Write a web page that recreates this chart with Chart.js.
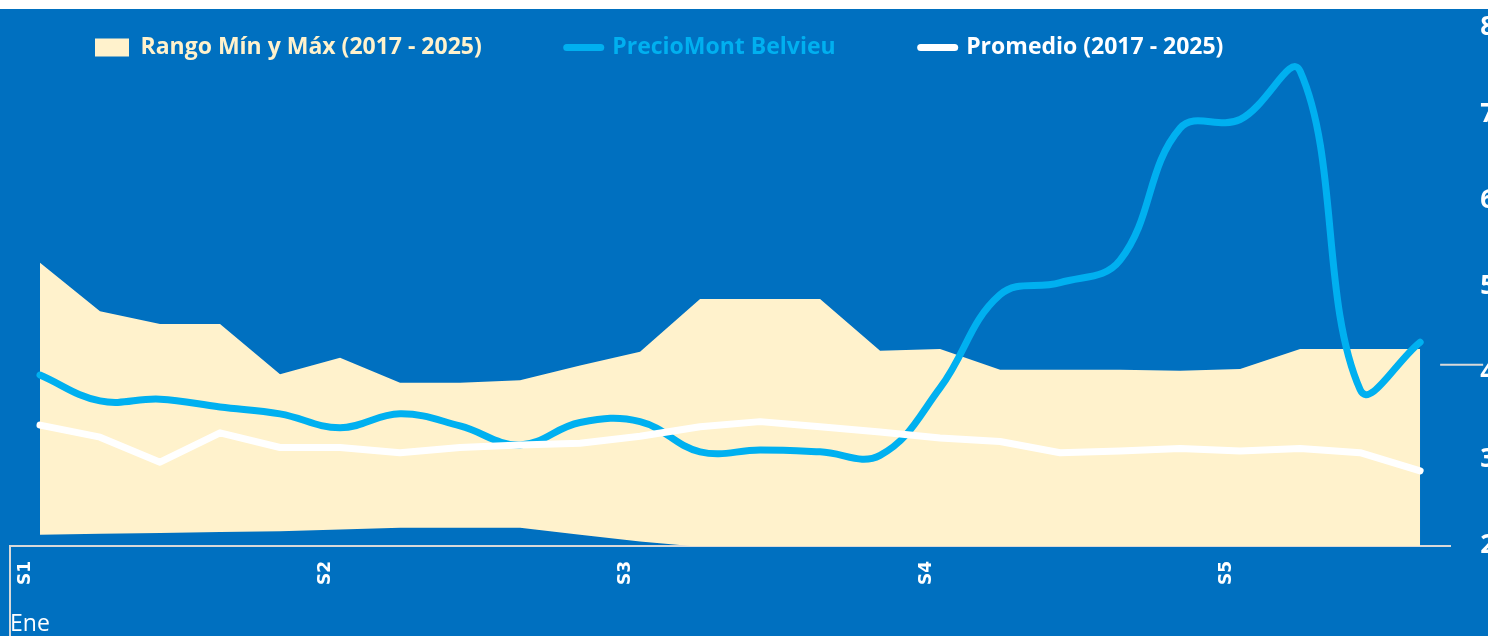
<!DOCTYPE html>
<html>
<head>
<meta charset="utf-8">
<script src="https://cdn.jsdelivr.net/npm/chart.js@4.4.1/dist/chart.umd.min.js"></script>
<style>
html, body { margin: 0; padding: 0; background: #ffffff; overflow: hidden; width: 1488px; height: 636px; }
#wrap { position: absolute; left: 0; top: 9px; width: 1504px; height: 627px; background: #0070C0; }
canvas { display: block; }
</style>
</head>
<body>
<div id="wrap"><canvas id="c" width="1504" height="627"></canvas></div>
<script>
// ---- data ----
const categories = ['S1','S1','S1','S1','S1','S2','S2','S2','S2','S2','S3','S3','S3','S3','S3','S4','S4','S4','S4','S4','S5','S5','S5','S5'];
const monthLabel = 'Ene';
const rangeMax = [5.28, 4.72, 4.57, 4.57, 3.99, 4.18, 3.89, 3.89, 3.92, 4.09, 4.25, 4.86, 4.86, 4.86, 4.26, 4.28, 4.04, 4.04, 4.04, 4.03, 4.05, 4.28, 4.28, 4.28];
const rangeMin = [2.13, 2.14, 2.15, 2.16, 2.17, 2.19, 2.21, 2.21, 2.21, 2.13, 2.05, 1.99, 1.95, 1.95, 1.95, 1.95, 1.95, 1.95, 1.95, 1.95, 1.95, 1.95, 1.95, 1.95];
const precioMontBelvieu = [3.98, 3.68, 3.70, 3.61, 3.53, 3.37, 3.53, 3.39, 3.17, 3.43, 3.44, 3.09, 3.11, 3.09, 3.05, 3.83, 4.91, 5.05, 5.31, 6.84, 6.94, 7.50, 3.81, 4.36];
const promedio = [3.40, 3.26, 2.97, 3.31, 3.14, 3.14, 3.08, 3.14, 3.17, 3.19, 3.27, 3.38, 3.44, 3.38, 3.32, 3.25, 3.21, 3.08, 3.10, 3.13, 3.10, 3.13, 3.08, 2.87];
const yTicks = { min: 2, max: 8, step: 1 };
const stubLineValue = 4.1;
const seriesNames = ['Rango Mín y Máx (2017 - 2025)', 'PrecioMont Belvieu', 'Promedio (2017 - 2025)'];

// ---- styles ----
const C_RANGE = '#FFF2CC', C_PRICE = '#00B0F0', C_AVG = '#FFFFFF', C_AXIS = '#D9D9D9';
const FONT = "'Open Sans', sans-serif";

const decor = {
  id: 'decor',
  afterLayout(chart) {
    const lg = chart.legend;
    if (!lg) return;
    const pad = lg.options.labels.padding;
    lg.top = chart.chartArea.top + 8 - pad;
    lg.height = pad * 2 + 40;
    lg.bottom = lg.top + lg.height;
  },
  afterDraw(chart) {
    const { ctx, chartArea, scales } = chart;
    ctx.save();
    ctx.strokeStyle = C_AXIS;
    ctx.lineWidth = 2;
    ctx.beginPath();
    ctx.moveTo(chartArea.left, chartArea.bottom);
    ctx.lineTo(chartArea.left, chart.height);
    const yy = scales.y.getPixelForValue(stubLineValue);
    ctx.moveTo(chartArea.right - 10, yy);
    ctx.lineTo(chartArea.right + 33, yy);
    ctx.stroke();
    ctx.restore();
  }
};

new Chart(document.getElementById('c'), {
  type: 'line',
  data: {
    labels: categories,
    datasets: [
      { label: seriesNames[0], data: rangeMax, fill: '+1', backgroundColor: C_RANGE, borderWidth: 0, pointRadius: 0, tension: 0, order: 2 },
      { label: 'min', data: rangeMin, fill: false, borderWidth: 0, pointRadius: 0, tension: 0, order: 3 },
      { label: seriesNames[1], data: precioMontBelvieu, borderColor: C_PRICE, borderWidth: 7, pointRadius: 0, tension: 0.4, fill: false, borderCapStyle: 'round', borderJoinStyle: 'round', order: 1 },
      { label: seriesNames[2], data: promedio, borderColor: C_AVG, borderWidth: 7, pointRadius: 0, tension: 0, fill: false, borderCapStyle: 'round', borderJoinStyle: 'round', order: 0 }
    ]
  },
  options: {
    responsive: false,
    animation: false,
    devicePixelRatio: 1,
    layout: { padding: { left: 10, right: 9, top: 18, bottom: 0 } },
    scales: {
      x: {
        type: 'category',
        offset: true,
        grid: { display: false, drawTicks: false },
        border: { display: true, color: C_AXIS, width: 2 },
        ticks: {
          autoSkip: false, minRotation: 90, maxRotation: 90, padding: 15, labelOffset: -14,
          color: '#FFFFFF', font: { family: 'DejaVu Sans', size: 17, weight: 'bold' },
          callback: (v, i) => (i === 0 || categories[i] !== categories[i - 1]) ? categories[i] : ''
        },
        title: { display: true, text: monthLabel, align: 'start', color: '#FFFFFF', font: { family: FONT, size: 23, lineHeight: 1 }, padding: { top: 13, bottom: 0 } }
      },
      y: {
        position: 'right',
        min: yTicks.min, max: yTicks.max,
        grid: { display: false, drawTicks: true, tickLength: 30 },
        border: { display: false },
        ticks: { stepSize: yTicks.step, padding: 0, color: '#FFFFFF', font: { family: FONT, size: 26, weight: 'bold' } }
      }
    },
    plugins: {
      tooltip: { enabled: false },
      legend: {
        position: 'top',
        align: 'start',
        maxHeight: 1,
        labels: {
          padding: 85,
          usePointStyle: true,
          pointStyleWidth: 34,
          boxHeight: 18,
          font: { family: FONT, size: 23, weight: 'bold' },
          generateLabels: () => [
            { text: seriesNames[0], fillStyle: C_RANGE, strokeStyle: C_RANGE, lineWidth: 0, pointStyle: 'rect', fontColor: C_RANGE, hidden: false, datasetIndex: 0 },
            { text: seriesNames[1], fillStyle: C_PRICE, strokeStyle: C_PRICE, lineWidth: 7, lineCap: 'round', pointStyle: 'line', fontColor: C_PRICE, hidden: false, datasetIndex: 2 },
            { text: seriesNames[2], fillStyle: C_AVG, strokeStyle: C_AVG, lineWidth: 7, lineCap: 'round', pointStyle: 'line', fontColor: C_AVG, hidden: false, datasetIndex: 3 }
          ]
        }
      }
    }
  },
  plugins: [decor]
});
</script>
</body>
</html>
